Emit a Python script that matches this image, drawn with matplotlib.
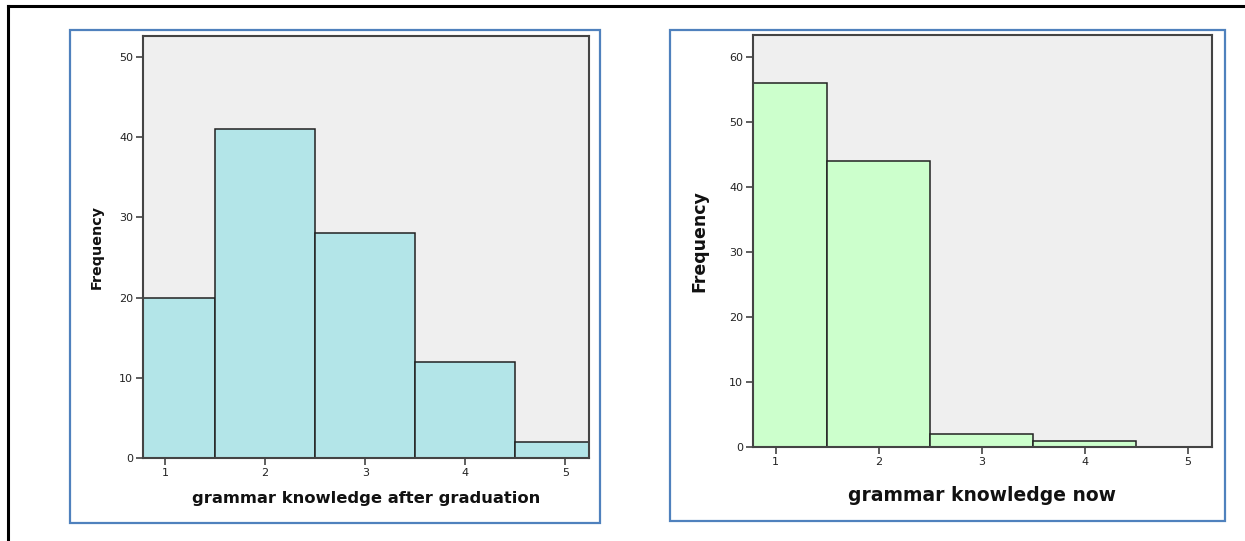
import matplotlib.pyplot as plt
from matplotlib.patches import Rectangle
from matplotlib.lines import Line2D

# data
levels = [1, 2, 3, 4, 5]
after_grad = [20, 41, 28, 12, 2]
now = [56, 44, 2, 1, 0]

fig = plt.figure(figsize=(12.45, 5.41), dpi=100)
W, H = 1245.0, 541.0

def px_box(x0, y0, x1, y1):
    # pixel box (top-left origin) -> figure fraction rect
    return [x0 / W, 1 - y1 / H, (x1 - x0) / W, (y1 - y0) / H]

# outer frame (top + left edges)
fig.add_artist(Line2D([7.5 / W, 7.5 / W], [0, 1 - 6 / H], transform=fig.transFigure, color='black', lw=2.2))
fig.add_artist(Line2D([7.5 / W, 1], [1 - 6 / H, 1 - 6 / H], transform=fig.transFigure, color='black', lw=2.2))

# blue panel borders
for b in [(70, 30, 600, 523), (670, 30, 1225, 521)]:
    r = px_box(*b)
    fig.add_artist(Rectangle((r[0], r[1]), r[2], r[3], transform=fig.transFigure,
                             fill=False, edgecolor='#4f81bd', lw=1.6))

def hist_panel(box, counts, color, ymax, yticks, xlab, xlab_fs, ylab_fs, xlab_pad, ylab_pad):
    ax = fig.add_axes(px_box(*box))
    ax.set_facecolor('#efefef')
    ax.bar(levels, counts, width=1.0, color=color, edgecolor='#222222', linewidth=1.1, zorder=2)
    ax.set_xlim(0.78, 5.235)
    ax.set_ylim(0, ymax)
    ax.set_xticks(levels)
    ax.set_yticks(yticks)
    for s in ax.spines.values():
        s.set_color('#444444')
        s.set_linewidth(1.5)
    ax.tick_params(axis='both', direction='out', length=5, width=1.2, color='#444444',
                   labelsize=8, labelcolor='#222222', pad=2)
    ax.set_xlabel(xlab, fontsize=xlab_fs, fontweight='bold', color='#111111', labelpad=xlab_pad)
    ax.set_ylabel('Frequency', fontsize=ylab_fs, fontweight='bold', color='#111111', labelpad=ylab_pad)
    return ax

hist_panel((143, 36, 589, 458), after_grad, '#b3e5e8', 52.6, [0, 10, 20, 30, 40, 50],
           'grammar knowledge after graduation', 11.8, 10.3, 9.5, 11)
hist_panel((753, 35, 1212, 447), now, '#ccffcc', 63.4, [0, 10, 20, 30, 40, 50, 60],
           'grammar knowledge now', 13.5, 12.5, 14, 15)

fig.savefig('out.png', dpi=100)
